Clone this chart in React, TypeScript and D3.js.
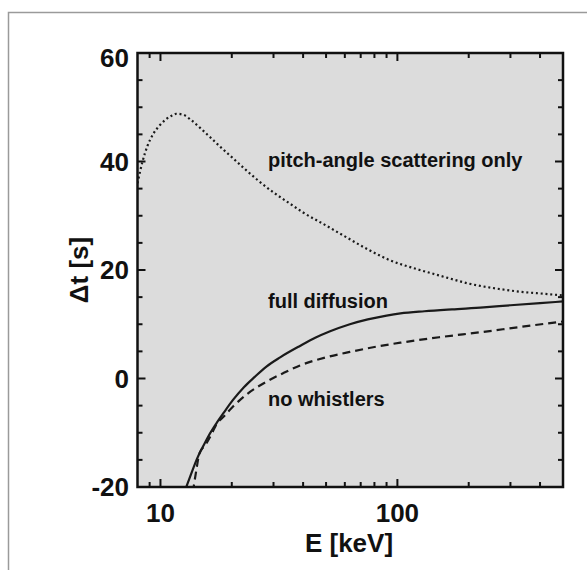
import React from 'react';
import * as d3 from 'd3';

// energies (keV) and delays (s)
const pitchE = [8, 8.4, 8.8, 9.3, 9.9, 10.5, 11.2, 11.7, 12.5, 13.5, 14.7, 16.1, 18, 20, 23, 26, 30, 35, 40, 50, 60, 75, 93, 120, 150, 200, 260, 330, 420, 500];
const pitchT = [36, 40, 42.8, 45, 46.6, 47.7, 48.5, 48.8, 48.6, 47.6, 46.2, 44.6, 42.6, 40.8, 38.4, 36.4, 34.3, 32.3, 30.6, 28.2, 26.2, 23.8, 21.8, 20.2, 19.0, 17.5, 16.6, 16.0, 15.6, 15.3];

const fullE = [12.6, 13.5, 14.2, 15.1, 16, 17.2, 18.5, 20.2, 22.5, 25, 28, 32, 38.8, 45, 52, 63, 75, 90, 103, 130, 170, 231, 300, 400, 500];
const fullT = [-21, -17.5, -15, -12.6, -10.5, -8.3, -6.3, -4.0, -1.6, 0.3, 2.2, 3.9, 6.0, 7.5, 8.7, 10.0, 10.9, 11.6, 12.0, 12.4, 12.75, 13.1, 13.5, 13.9, 14.2];

const noWhE = [13.7, 14.17, 14.6, 15.5, 16.5, 17.2, 18.5, 20.2, 23, 28, 33, 38.8, 50, 63, 80, 103, 150, 231, 330, 500];
const noWhT = [-21, -16.9, -13.8, -12.2, -10.1, -8.5, -7.0, -5.2, -3.0, -0.6, 1.0, 2.4, 3.9, 4.9, 5.8, 6.6, 7.6, 8.6, 9.5, 10.5];

const xMajor = [10, 100];
const xMinor = [9, 20, 30, 40, 50, 60, 70, 80, 90, 200, 300, 400];
const yMajor = [-20, 0, 20, 40, 60];
const yMinor = [-15, -10, -5, 5, 10, 15, 25, 30, 35, 45, 50, 55];

const labels = [
  { text: 'pitch-angle scattering only', y: 167 },
  { text: 'full diffusion', y: 308 },
  { text: 'no whistlers', y: 406 },
];

export default function App() {
  const width = 587, height = 570;
  const left = 137.5, right = 563, top = 53, bottom = 487;

  const x = d3.scaleLog().domain([8, 500]).range([left, right]);
  const y = d3.scaleLinear().domain([-20, 60]).range([bottom, top]);

  const line = d3.line<[number, number]>()
    .x(d => x(d[0]))
    .y(d => y(d[1]))
    .curve(d3.curveMonotoneX);

  const zip = (a: number[], b: number[]) => a.map((v, i) => [v, b[i]] as [number, number]);

  const font = "'Liberation Sans', Arial, sans-serif";
  const majLen = 8, minLen = 5;

  return (
    <svg width={width} height={height} style={{ position: 'absolute', left: 0, top: 0 }}>
      <rect x={0} y={0} width={width} height={height} fill="#fff" />
      {/* outer frame of the figure */}
      <rect x={8.5} y={12.5} width={width + 20} height={height + 20} fill="none" stroke="#9a9a9a" strokeWidth={1.5} />

      <defs>
        <clipPath id="plot">
          <rect x={left} y={top} width={right - left} height={bottom - top} />
        </clipPath>
      </defs>

      <rect x={left} y={top} width={right - left} height={bottom - top} fill="#dcdcdc" />

      <g clipPath="url(#plot)" fill="none" stroke="#1a1a1a" strokeWidth={2.2}>
        <path d={line(zip(pitchE, pitchT)) || ''} strokeDasharray="2 2.8" />
        <path d={line(zip(fullE, fullT)) || ''} />
        <path d={line(zip(noWhE, noWhT)) || ''} strokeDasharray="8 5" />
      </g>

      {/* ticks on all four sides, pointing inward */}
      <g stroke="#111" strokeWidth={2}>
        {xMajor.map(v => (
          <g key={'xM' + v}>
            <line x1={x(v)} x2={x(v)} y1={bottom} y2={bottom - majLen} />
            <line x1={x(v)} x2={x(v)} y1={top} y2={top + majLen} />
          </g>
        ))}
        {xMinor.map(v => (
          <g key={'xm' + v}>
            <line x1={x(v)} x2={x(v)} y1={bottom} y2={bottom - minLen} />
            <line x1={x(v)} x2={x(v)} y1={top} y2={top + minLen} />
          </g>
        ))}
        {yMajor.map(v => (
          <g key={'yM' + v}>
            <line x1={left} x2={left + majLen} y1={y(v)} y2={y(v)} />
            <line x1={right} x2={right - majLen} y1={y(v)} y2={y(v)} />
          </g>
        ))}
        {yMinor.map(v => (
          <g key={'ym' + v}>
            <line x1={left} x2={left + minLen} y1={y(v)} y2={y(v)} />
            <line x1={right} x2={right - minLen} y1={y(v)} y2={y(v)} />
          </g>
        ))}
      </g>

      <rect x={left} y={top} width={right - left} height={bottom - top} fill="none" stroke="#111" strokeWidth={2.5} />

      <g fontFamily={font} fontWeight="bold" fontSize={26} fill="#111">
        {yMajor.map(v => (
          <text key={'yl' + v} x={129} y={y(v) + (v === 60 ? 5 : 0)} textAnchor="end" dominantBaseline="central">{v}</text>
        ))}
        {xMajor.map(v => (
          <text key={'xl' + v} x={x(v)} y={522} textAnchor="middle">{v}</text>
        ))}
        <text x={349} y={552} textAnchor="middle">E [keV]</text>
        <text transform={`translate(88,${(top + bottom) / 2}) rotate(-90)`} textAnchor="middle">Δt [s]</text>
      </g>

      <g fontFamily={font} fontWeight="bold" fontSize={20} fill="#111">
        {labels.map(l => (
          <text key={l.text} x={268} y={l.y}>{l.text}</text>
        ))}
      </g>
    </svg>
  );
}
